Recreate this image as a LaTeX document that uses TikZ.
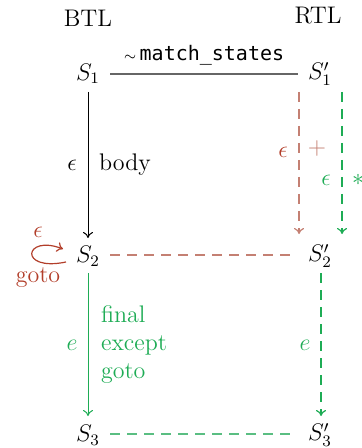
\documentclass[tikz,border=0pt]{standalone}
\usepackage{fontspec}
\setmonofont{DejaVu Sans Mono}
\usetikzlibrary{arrows.meta}
\definecolor{rd}{RGB}{178,62,42}
\definecolor{rdl}{RGB}{196,128,115}
\definecolor{gn}{RGB}{30,172,85}
\definecolor{gnl}{RGB}{90,190,130}
\begin{document}
\begin{tikzpicture}[x=0.5pt,y=-0.5pt,
  st/.style={inner sep=1pt,font=\large},
  lbl/.style={inner sep=1pt,font=\large},
  arr/.style={-{To[length=3pt,width=5pt]},line width=0.5pt},
  dsh/.style={dash pattern=on 5pt off 3.5pt,line width=0.6pt}]
\useasboundingbox (0,0) rectangle (361,448);
\node[lbl] (btl) at (88,18) {BTL};
\node[lbl] (rtl) at (318,16) {RTL};
\node[st] (s1) at (88,74) {$S_1$};
\node[st] (s1p) at (320,74) {$S_1'$};
\node[st] (s2) at (88,256) {$S_2$};
\node[st] (s2p) at (320,256) {$S_2'$};
\node[st] (s3) at (88,435) {$S_3$};
\node[st] (s3p) at (320,435) {$S_3'$};
% top
\coordinate (t1) at (110,74);
\coordinate (t2) at (298,74);
\draw[gray!80!black,line width=0.6pt] (t1) -- node[above=1pt,black] {$\scriptstyle\sim$\,\texttt{match\_states}} (t2);
% body arrow
\coordinate (b1) at (88,92);
\coordinate (b2) at (88,238);
\draw[arr,black] (b1) -- node[left=2pt,font=\large] {$\epsilon$} node[right=2pt,font=\large] {body} (b2);
% red dashed down
\coordinate (r1) at (299,92);
\coordinate (r2) at (299,234);
\draw[arr,dsh,rdl] (r1) -- (r2);
\node[rd,font=\large] (re) at (283,152) {$\epsilon$};
\node[rdl,font=\large] (rp) at (317,149) {$+$};
% green dashed down
\coordinate (g1) at (342,92);
\coordinate (g2) at (342,234);
\draw[arr,dsh,gn] (g1) -- (g2);
\node[gn,font=\large] (ge) at (326,180) {$\epsilon$};
\node[gn,font=\large] (gs) at (358,180) {$*$};
% S2 - S2'
\coordinate (m1) at (110,255);
\coordinate (m2) at (296,255);
\draw[dsh,rdl] (m1) -- (m2);
% loop
\coordinate (l1) at (66,262);
\coordinate (l2) at (63,249);
\draw[rd,-{To[length=3pt,width=5pt]},line width=0.6pt] (l1) .. controls (18,272) and (24,234) .. (l2);
\node[rd,font=\large] (le) at (38,232) {$\epsilon$};
\node[rd,font=\large] (lg) at (38,278) {goto};
% green solid down
\coordinate (f1) at (88,273);
\coordinate (f2) at (88,416);
\draw[arr,gn] (f1) -- (f2);
\node[gn,font=\large] (fe) at (72,345) {$e$};
\node[gn,font=\large,align=left,anchor=west] (fl) at (94,345) {final\\except\\goto};
% green dashed right down
\coordinate (h1) at (321,273);
\coordinate (h2) at (321,416);
\draw[arr,dsh,gn] (h1) -- (h2);
\node[gn,font=\large] (he) at (305,345) {$e$};
% bottom
\coordinate (k1) at (110,434);
\coordinate (k2) at (296,434);
\draw[dsh,gnl] (k1) -- (k2);
\end{tikzpicture}
\end{document}
